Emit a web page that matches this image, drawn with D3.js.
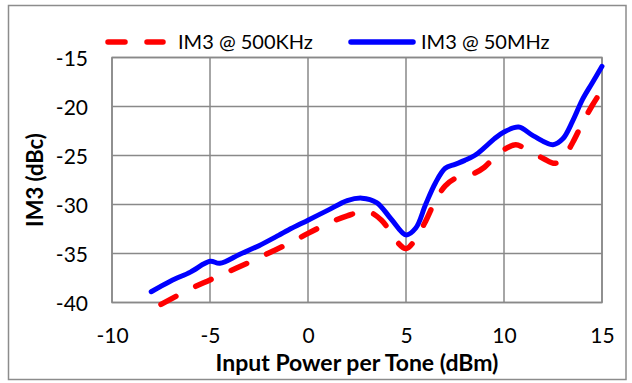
<!DOCTYPE html>
<html>
<head>
<meta charset="utf-8">
<script src="https://cdn.jsdelivr.net/npm/d3@7"></script>
<style>
  html, body { margin: 0; padding: 0; background: #fff; }
  svg { display: block; }
  text { font-family: Lato, "Open Sans", sans-serif; fill: #000; }
</style>
</head>
<body>
<svg id="chart" width="632" height="383"></svg>
<script>
// ---- data ----
const seriesNames = ["IM3 @ 500KHz", "IM3 @ 50MHz"];
const xTicks = [-10, -5, 0, 5, 10, 15];
const yTicks = [-40, -35, -30, -25, -20, -15];

const x500k = [-7.5, -6, -5, -4, -3, -2, -1, 0, 1, 2, 3, 3.75, 4.5, 5, 5.5, 6, 6.5, 7, 7.5, 8, 8.5, 9, 9.5, 10, 10.6, 11, 12, 12.6, 13, 13.5, 14, 14.5, 15];
const y500k = [-40.2, -38.6, -37.7, -36.8, -35.9, -34.95, -34.0, -32.95, -31.95, -31.15, -30.7, -31.6, -33.7, -34.5, -33.5, -31.7, -29.6, -28.1, -27.35, -27.15, -26.8, -26.2, -25.2, -24.4, -23.9, -24.2, -25.3, -25.8, -25.3, -23.7, -21.7, -19.9, -18.3];

const x50m = [-8, -7, -6, -5, -4.5, -3.5, -2.5, -1.5, -1, 0, 1, 2, 2.75, 3.5, 4.25, 5, 5.5, 6, 6.5, 7, 7.5, 8, 8.5, 9, 9.5, 10, 10.75, 11.5, 12.5, 13, 13.5, 14, 14.5, 15];
const y50m = [-38.9, -37.8, -36.9, -35.8, -36.0, -35.1, -34.2, -33.15, -32.6, -31.6, -30.6, -29.6, -29.35, -29.8, -31.5, -33.1, -32.4, -30.0, -27.8, -26.3, -25.9, -25.5, -25.0, -24.2, -23.3, -22.6, -22.1, -23.0, -23.9, -23.3, -21.5, -19.3, -17.6, -15.9];

const colors = ["#ff0000", "#0000ff"];

// ---- layout ----
const svg = d3.select("#chart");
const plot = { left: 112, right: 602, top: 57.5, bottom: 302.5 };

const x = d3.scaleLinear().domain([-10, 15]).range([plot.left, plot.right]);
const y = d3.scaleLinear().domain([-40, -15]).range([plot.bottom, plot.top]);

// outer frame
svg.append("rect")
  .attr("x", 8.5).attr("y", 5.5)
  .attr("width", 617.5).attr("height", 374)
  .attr("fill", "#fff").attr("stroke", "#8c8c8c").attr("stroke-width", 1.5);

// gridlines
const grid = svg.append("g");
grid.selectAll("line.h").data(yTicks).join("line")
  .attr("x1", plot.left).attr("x2", plot.right)
  .attr("y1", d => y(d)).attr("y2", d => y(d))
  .attr("stroke", "#898989").attr("stroke-width", 1.5);
grid.selectAll("line.v").data(xTicks).join("line")
  .attr("y1", plot.top).attr("y2", plot.bottom)
  .attr("x1", d => x(d)).attr("x2", d => x(d))
  .attr("stroke", "#898989").attr("stroke-width", 1.5);
svg.append("rect")
  .attr("x", plot.left).attr("y", plot.top)
  .attr("width", plot.right - plot.left).attr("height", plot.bottom - plot.top)
  .attr("fill", "none").attr("stroke", "#898989").attr("stroke-width", 1.5);

// axes labels via d3 axes (hyphen-minus as in the reference)
const fmt = d => String(d);
const xAxis = d3.axisBottom(x).tickValues(xTicks).tickSize(0).tickPadding(0).tickFormat(fmt);
const gx = svg.append("g").attr("transform", `translate(0, ${plot.bottom})`).call(xAxis);
gx.select(".domain").remove();
gx.selectAll("text").attr("dy", null).attr("y", 40)
  .style("font-size", "21px").style("font-family", "Lato, sans-serif").attr("fill", "#000");

const yAxis = d3.axisLeft(y).tickValues(yTicks).tickSize(0).tickPadding(0).tickFormat(fmt);
const gy = svg.append("g").attr("transform", `translate(${plot.left - 24}, 0)`).call(yAxis);
gy.select(".domain").remove();
gy.selectAll("text").attr("dy", "0.36em")
  .style("font-size", "21px").style("font-family", "Lato, sans-serif").attr("fill", "#000");

// axis titles
svg.append("text")
  .attr("x", (plot.left + plot.right) / 2).attr("y", 371)
  .attr("text-anchor", "middle")
  .style("font-size", "23px").style("font-weight", "bold")
  .text("Input Power per Tone (dBm)");

svg.append("text")
  .attr("transform", `translate(43, ${(plot.top + plot.bottom) / 2}) rotate(-90)`)
  .attr("text-anchor", "middle")
  .style("font-size", "22px").style("font-weight", "bold")
  .text("IM3 (dBc)");

// lines
const line = d3.line()
  .x(d => x(d[0])).y(d => y(d[1]))
  .curve(d3.curveCatmullRom.alpha(0.5));

const data500k = x500k.map((v, i) => [v, y500k[i]]);
const data50m = x50m.map((v, i) => [v, y50m[i]]);

svg.append("path").datum(data50m)
  .attr("d", line).attr("fill", "none")
  .attr("stroke", colors[1]).attr("stroke-width", 5)
  .attr("stroke-linecap", "round").attr("stroke-linejoin", "round");

svg.append("path").datum(data500k)
  .attr("d", line).attr("fill", "none")
  .attr("stroke", colors[0]).attr("stroke-width", 5.5)
  .attr("stroke-dasharray", "17,22")
  .attr("stroke-linecap", "round").attr("stroke-linejoin", "round");

// legend
const legendY = 42;
const legend = [
  { name: seriesNames[0], color: colors[0], dash: "17,22", x1: 108, x2: 163, tx: 178 },
  { name: seriesNames[1], color: colors[1], dash: null, x1: 351, x2: 413, tx: 421 }
];
const lg = svg.append("g");
legend.forEach(l => {
  lg.append("line")
    .attr("x1", l.x1).attr("x2", l.x2).attr("y1", legendY).attr("y2", legendY)
    .attr("stroke", l.color).attr("stroke-width", 5.5)
    .attr("stroke-linecap", "round")
    .attr("stroke-dasharray", l.dash);
  lg.append("text")
    .attr("x", l.tx).attr("y", legendY).attr("dy", "0.36em")
    .style("font-size", "20px")
    .text(l.name);
});
</script>
</body>
</html>
